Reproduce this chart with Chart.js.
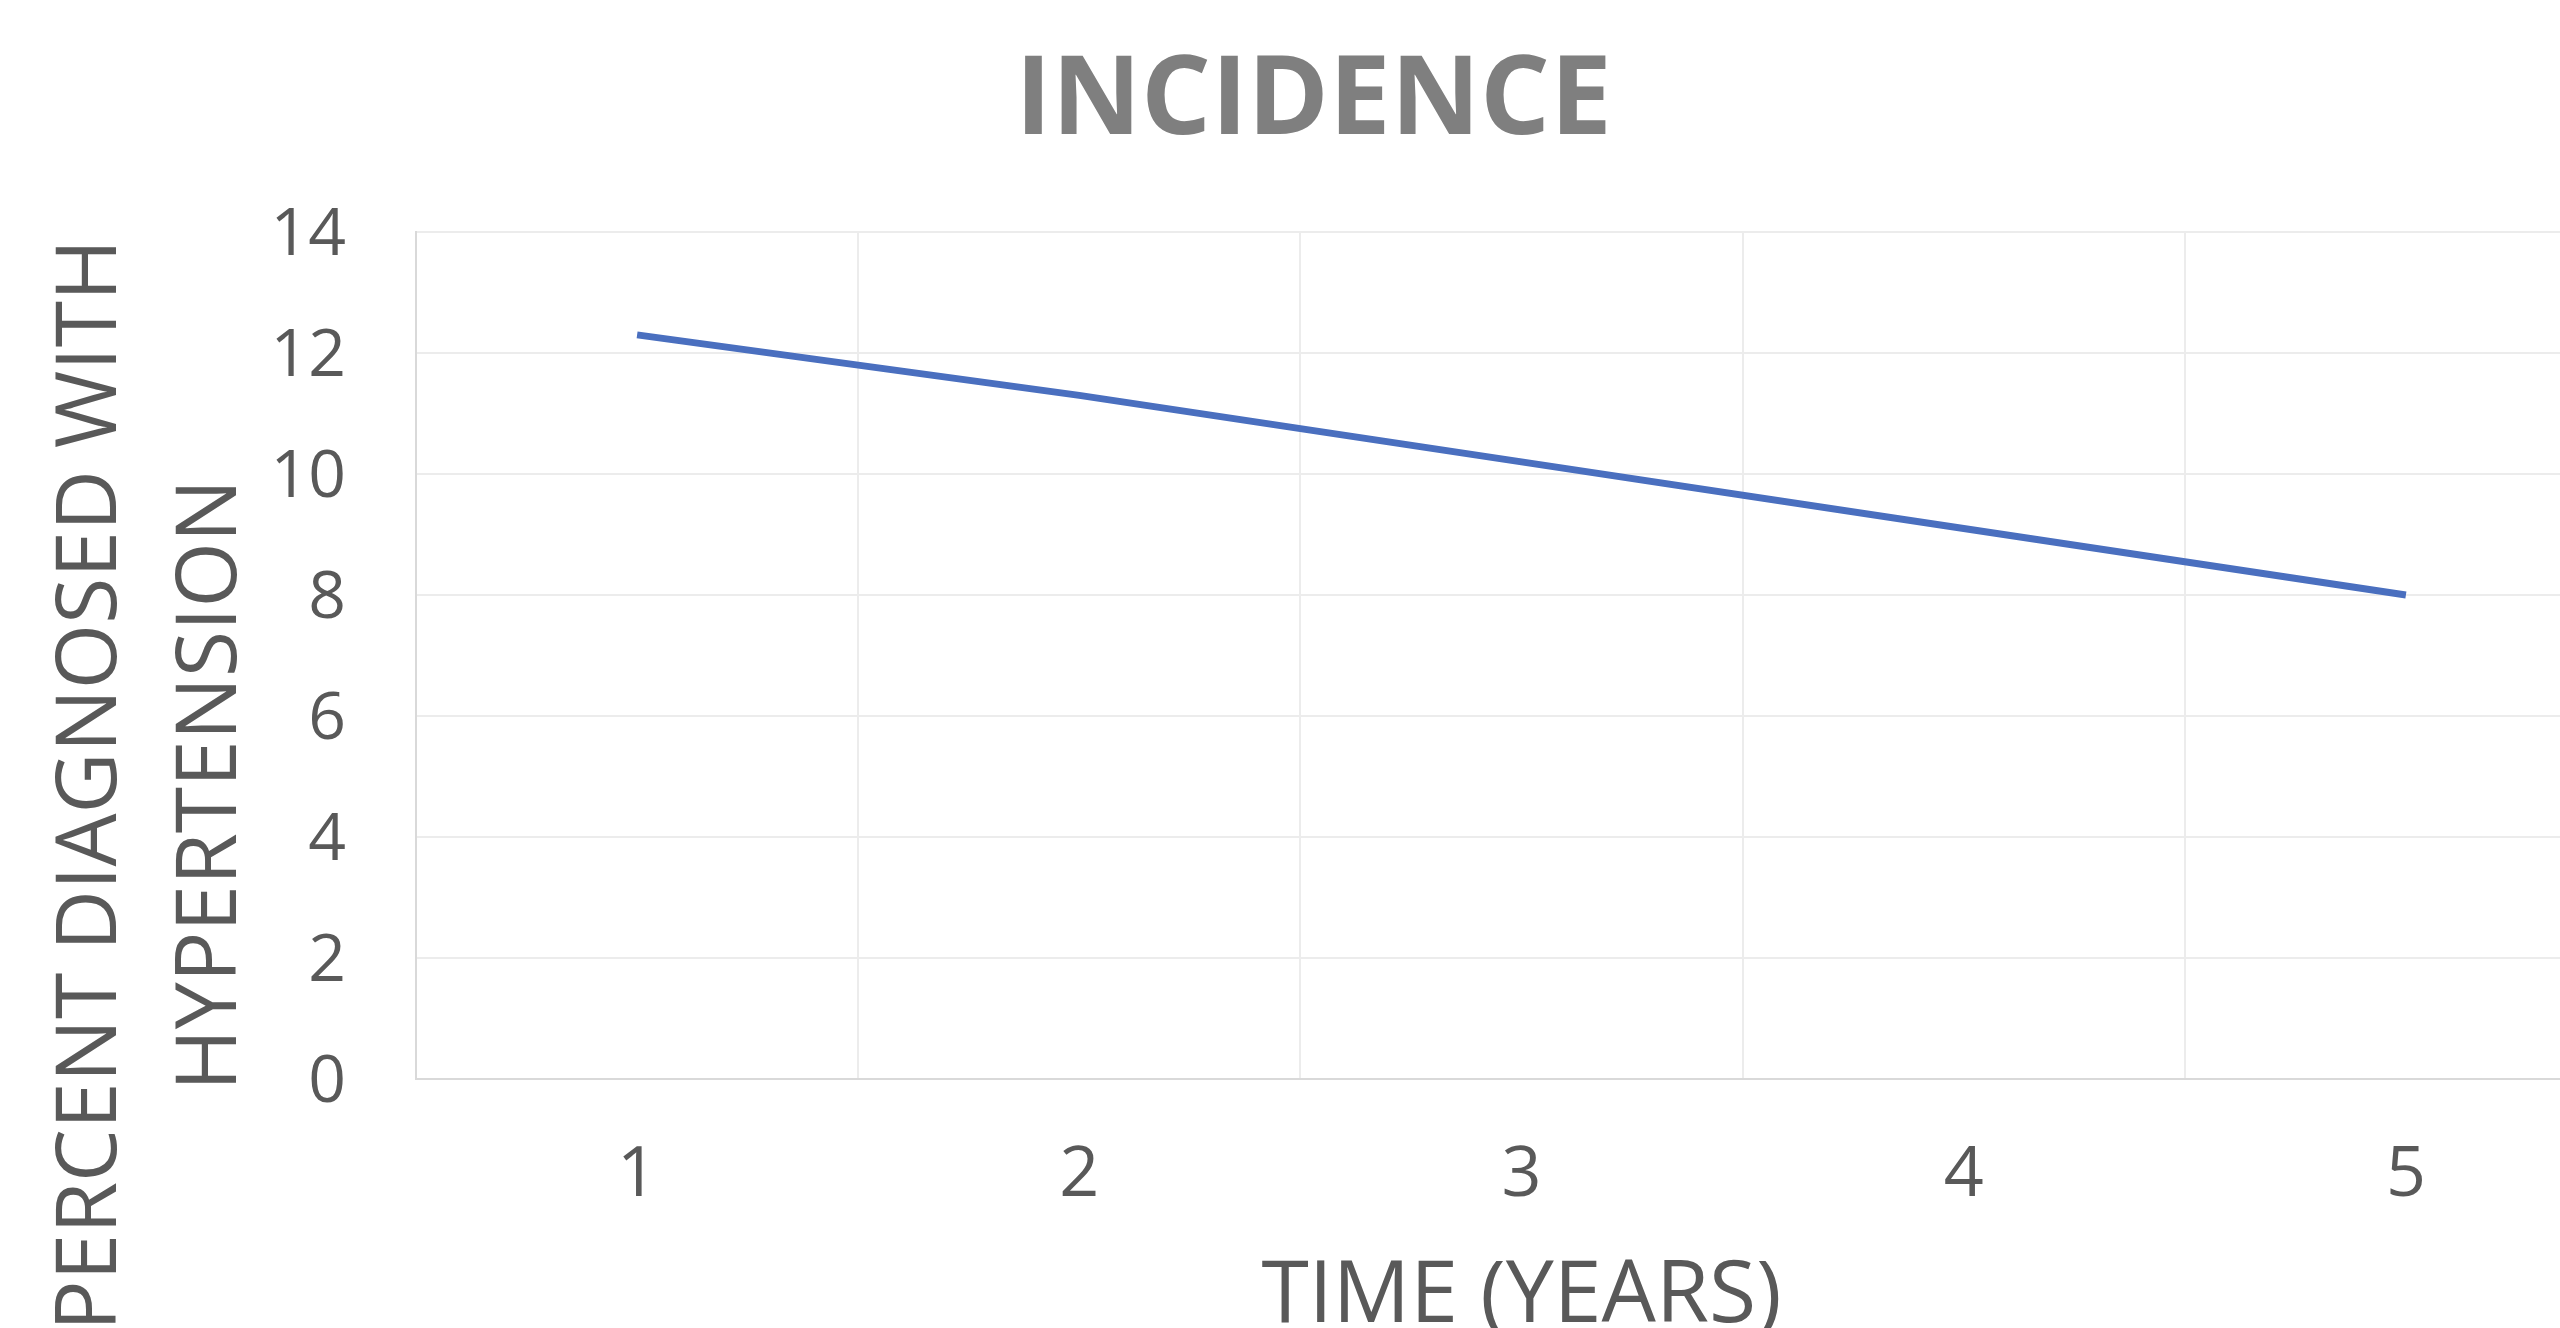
<!DOCTYPE html>
<html>
<head>
<meta charset="utf-8">
<script src="https://cdn.jsdelivr.net/npm/chart.js@4"></script>
<style>
  html, body { margin: 0; padding: 0; overflow: hidden; background: #ffffff; width: 2560px; height: 1328px; }
  #wrap { position: absolute; left: 0; top: 0; width: 2644px; height: 1570px; }
</style>
</head>
<body>
<div id="wrap"><canvas id="c" width="2644" height="1570"></canvas></div>
<script>
const categories = ['1', '2', '3', '4', '5'];
const incidence = [12.3, 11.3, 10.2, 9.1, 8.0];
const yTicks = [0, 2, 4, 6, 8, 10, 12, 14];
const chartTitle = 'INCIDENCE';
const xTitle = 'TIME (YEARS)';
const yTitleLines = ['PERCENT DIAGNOSED WITH', 'HYPERTENSION'];

const FONT = "'Open Sans', 'DejaVu Sans', sans-serif";
const TEXT = '#595959';

const yTitlePlugin = {
  id: 'yTitle',
  afterDraw(chart) {
    const ctx = chart.ctx;
    ctx.save();
    ctx.fillStyle = TEXT;
    ctx.font = "84px " + FONT;
    ctx.textAlign = 'center';
    ctx.textBaseline = 'middle';
    const xs = [92, 212];
    yTitleLines.forEach((t, i) => {
      ctx.save();
      ctx.translate(xs[i], 785);
      ctx.rotate(-Math.PI / 2);
      ctx.fillText(t, 0, 0);
      ctx.restore();
    });
    ctx.restore();
  }
};

new Chart(document.getElementById('c'), {
  type: 'line',
  data: {
    labels: categories,
    datasets: [
      {
        data: incidence,
        borderColor: '#4a6fbf',
        borderWidth: 7,
        pointRadius: 0,
        borderCapStyle: 'butt',
        tension: 0,
        fill: false
      },
      {
        data: incidence,
        borderColor: '#e4eaf8',
        borderWidth: 2.5,
        pointRadius: 0,
        borderCapStyle: 'butt',
        tension: 0,
        fill: false
      }
    ]
  },
  options: {
    responsive: false,
    devicePixelRatio: 1,
    animation: false,
    layout: { padding: { top: 0, right: 17, left: 0, bottom: 0 } },
    plugins: {
      legend: { display: false },
      tooltip: { enabled: false },
      title: {
        display: true,
        text: chartTitle,
        color: '#7f7f7f',
        font: { family: FONT, size: 110, weight: 'bold' },
        padding: { top: 37, bottom: 63 }
      }
    },
    scales: {
      x: {
        type: 'category',
        offset: true,
        grid: { offset: true, color: '#ececec', lineWidth: 2, drawTicks: false },
        border: { color: '#d9d9d9', width: 2 },
        ticks: { color: TEXT, font: { family: FONT, size: 70 }, padding: 55 },
        title: {
          display: true,
          text: xTitle,
          color: TEXT,
          font: { family: FONT, size: 86 },
          padding: { top: 0, bottom: 221 }
        },
        afterFit(s) { s.height = 491; }
      },
      y: {
        min: 0,
        max: 14,
        afterBuildTicks(s) { s.ticks = yTicks.map(v => ({ value: v })); },
        grid: { color: '#ececec', lineWidth: 2, drawTicks: false },
        border: { color: '#d9d9d9', width: 2 },
        ticks: { color: TEXT, font: { family: FONT, size: 66 }, padding: 70, labelOffset: 4 },
        afterFit(s) { s.width = 416; }
      }
    }
  },
  plugins: [yTitlePlugin]
});
</script>
</body>
</html>
